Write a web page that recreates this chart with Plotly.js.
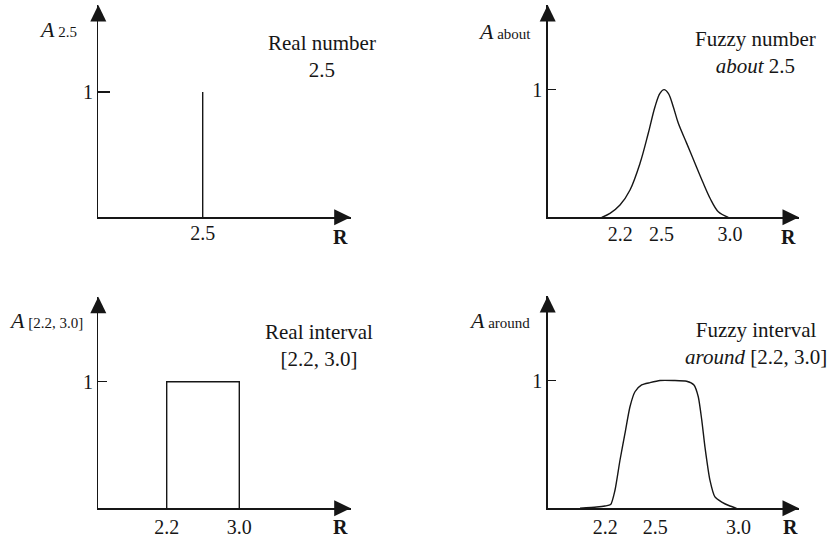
<!DOCTYPE html>
<html>
<head>
<meta charset="utf-8">
<script src="https://cdn.plot.ly/plotly-3.0.1.min.js"></script>
<style>
  html, body { margin: 0; padding: 0; background: #fff; }
  #chart { width: 831px; height: 539px; }
</style>
</head>
<body>
<div id="chart"></div>
<script>
// Membership functions: crisp number, fuzzy number, crisp interval, fuzzy interval
const spikeX = [2.5, 2.5];
const spikeY = [0, 1];

const aboutX = [2.065, 2.125, 2.198, 2.271, 2.344, 2.404, 2.453, 2.489, 2.519,
                2.550, 2.586, 2.623, 2.684, 2.744, 2.805, 2.854, 2.914, 2.987];
const aboutY = [0, 0.031, 0.096, 0.214, 0.423, 0.658, 0.866, 0.971, 1.0,
                0.971, 0.866, 0.736, 0.579, 0.423, 0.266, 0.149, 0.044, 0];

const intervalX = [2.2, 2.2, 3.0, 3.0];
const intervalY = [0, 1, 1, 0];

const aroundX = [2.048, 2.148, 2.198, 2.232, 2.258, 2.288, 2.318, 2.348, 2.378, 2.418,
                 2.468, 2.528, 2.608, 2.688, 2.732, 2.758, 2.779, 2.798, 2.828, 2.858,
                 2.899, 2.948, 2.988];
const aroundY = [0, 0.010, 0.018, 0.029, 0.141, 0.376, 0.586, 0.795, 0.912, 0.965,
                 0.983, 1.0, 1.0, 0.994, 0.965, 0.873, 0.690, 0.481, 0.220, 0.089,
                 0.049, 0.018, 0];

const ticksNumber = [2.5];
const ticksAbout = [2.2, 2.5, 3.0];
const ticksInterval = [2.2, 3.0];
const ticksAround = [2.2, 2.5, 3.0];

const W = 831, H = 539;
const INK = '#161616';
const SERIF = 'Liberation Serif';

// Panel geometry in pixels: y-axis at `left`, x-axis at `bottom`, arrow tips at `right`/`top`
const panels = [
  {left: 98.3,  right: 350.7, bottom: 217.3, top: 5,     x0: 1.456,  xs: 100,   ys: 125.3, ticklen: 12, xstand: -3, ticks: ticksNumber},
  {left: 547.7, right: 799,   bottom: 217.3, top: 5,     x0: 1.6715, xs: 137.3, ys: 127.7, ticklen: 8,  xstand: -2, ticks: ticksAbout},
  {left: 98.3,  right: 350.7, bottom: 508.3, top: 296.7, x0: 1.4463, xs: 90.75, ys: 126.6, ticklen: 9,  xstand: 0,  ticks: ticksInterval},
  {left: 547.7, right: 799,   bottom: 508.3, top: 296,   x0: 1.8542, xs: 166.6, ys: 127.8, ticklen: 8,  xstand: 0,  ticks: ticksAround}
];

const px = v => v / W;
const py = v => 1 - v / H;

const layout = {
  width: W, height: H,
  margin: {l: 0, r: 0, t: 0, b: 0},
  paper_bgcolor: '#fff', plot_bgcolor: 'rgba(0,0,0,0)',
  showlegend: false,
  font: {family: SERIF, size: 20, color: INK},
  shapes: [],
  annotations: []
};

panels.forEach((p, i) => {
  const n = i === 0 ? '' : String(i + 1);
  layout['xaxis' + n] = {
    domain: [px(p.left), px(p.right)],
    range: [p.x0, p.x0 + (p.right - p.left) / p.xs],
    anchor: 'y' + n,
    showline: true, linecolor: INK, linewidth: 1.4,
    showgrid: false, zeroline: false,
    ticks: '', tickmode: 'array',
    tickvals: p.ticks, ticktext: p.ticks.map(v => v.toFixed(1)),
    ticklabelstandoff: p.xstand,
    tickfont: {family: SERIF, size: 20, color: INK},
    fixedrange: true
  };
  layout['yaxis' + n] = {
    domain: [py(p.bottom), py(p.top)],
    range: [0, (p.bottom - p.top) / p.ys],
    anchor: 'x' + n,
    showline: true, linecolor: INK, linewidth: 1.4,
    showgrid: false, zeroline: false,
    ticks: 'inside', ticklen: p.ticklen, tickwidth: 1.3, tickcolor: INK,
    tickmode: 'array', tickvals: [1], ticktext: ['1'],
    ticklabelstandoff: 0,
    tickfont: {family: SERIF, size: 20, color: INK},
    fixedrange: true
  };
  // arrowheads at the ends of both axes
  const ah = 16.5, hw = 8;
  layout.shapes.push({
    type: 'path', xref: 'paper', yref: 'paper', line: {width: 0}, fillcolor: INK,
    path: `M ${px(p.left)} ${py(p.top)} L ${px(p.left - hw)} ${py(p.top + ah)} L ${px(p.left + hw)} ${py(p.top + ah)} Z`
  });
  layout.shapes.push({
    type: 'path', xref: 'paper', yref: 'paper', line: {width: 0}, fillcolor: INK,
    path: `M ${px(p.right)} ${py(p.bottom)} L ${px(p.right - ah)} ${py(p.bottom - hw)} L ${px(p.right - ah)} ${py(p.bottom + hw)} Z`
  });
});

function note(text, x, y, opts) {
  layout.annotations.push(Object.assign({
    text: text, xref: 'paper', yref: 'paper', x: px(x), y: py(y),
    showarrow: false, xanchor: 'center', yanchor: 'middle', align: 'center',
    font: {family: SERIF, size: 21, color: INK}
  }, opts || {}));
}

// axis names
const sub = s => `<span style="font-size:15px"> ${s}</span>`;
const nameFont = {family: SERIF, size: 22, color: INK};
note('<i>A</i>' + sub('2.5'), 37, 30, {xanchor: 'left', font: nameFont});
note('<i>A</i>' + sub('about'), 476, 31, {xanchor: 'left', font: nameFont});
note('<i>A</i>' + sub('[2.2, 3.0]'), 7, 321, {xanchor: 'left', font: nameFont});
note('<i>A</i>' + sub('around'), 467, 320, {xanchor: 'left', font: nameFont});

// R labels under the x arrows
const rFont = {family: SERIF, size: 20, color: INK};
note('<b>R</b>', 340.7, 237, {font: rFont});
note('<b>R</b>', 788, 237, {font: rFont});
note('<b>R</b>', 340.7, 527, {font: rFont});
note('<b>R</b>', 790, 527, {font: rFont});

// panel captions
note('Real number<br>2.5', 322, 56.5);
note('Fuzzy number<br><i>about</i> 2.5', 755, 52.5);
note('Real interval<br>[2.2, 3.0]', 319, 345.5);
note('Fuzzy interval<br><i>around</i> [2.2, 3.0]', 756, 343.3);

const lineStyle = {color: INK, width: 1.4};
const data = [
  {x: spikeX, y: spikeY, xaxis: 'x', yaxis: 'y', mode: 'lines', line: lineStyle, hoverinfo: 'skip'},
  {x: aboutX, y: aboutY, xaxis: 'x2', yaxis: 'y2', mode: 'lines', line: Object.assign({shape: 'spline', smoothing: 1.0}, lineStyle), hoverinfo: 'skip'},
  {x: intervalX, y: intervalY, xaxis: 'x3', yaxis: 'y3', mode: 'lines', line: lineStyle, hoverinfo: 'skip'},
  {x: aroundX, y: aroundY, xaxis: 'x4', yaxis: 'y4', mode: 'lines', line: Object.assign({shape: 'spline', smoothing: 0.6}, lineStyle), hoverinfo: 'skip'}
];

Plotly.newPlot('chart', data, layout, {displayModeBar: false, staticPlot: true});
</script>
</body>
</html>
